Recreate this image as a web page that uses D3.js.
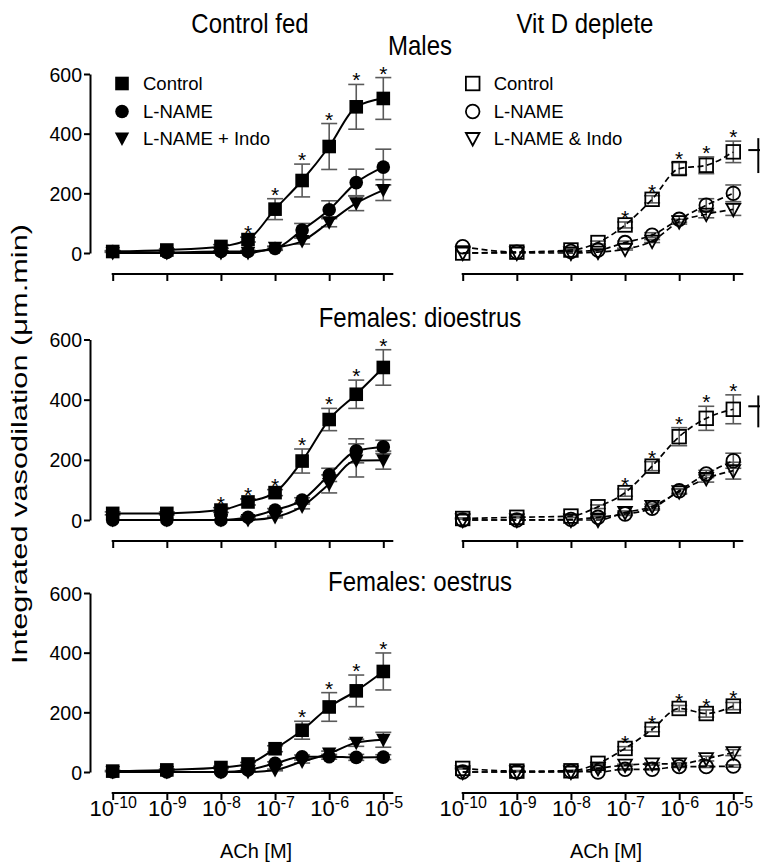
<!DOCTYPE html>
<html>
<head>
<meta charset="utf-8">
<script src="https://cdn.jsdelivr.net/npm/d3@7"></script>
<style>
  body { margin: 0; background: #fff; }
  svg text { font-family: "Liberation Sans", Arial, sans-serif; fill: #000; }
</style>
</head>
<body>
<div id="chart"></div>
<script>
// log10 [ACh] (M)
var logConc = [-10, -9, -8, -7.5, -7, -6.5, -6, -5.5, -5];
var xTicks = [-10, -9, -8, -7, -6, -5];
var yTicks = [0, 200, 400, 600];

var seriesNames = ["Control", "L-NAME", "L-NAME + Indo"];
var seriesNamesVitD = ["Control", "L-NAME", "L-NAME & Indo"];
var rowTitles = ["Males", "Females: dioestrus", "Females: oestrus"];
var colTitles = ["Control fed", "Vit D deplete"];

// Males, control fed
var mCF_ctrl = [5, 10, 22, 45, 147, 243, 357, 490, 518];
var mCF_ctrlErr = [3, 4, 6, 8, 35, 55, 77, 75, 70];
var mCF_lname = [5, 2, 5, 5, 15, 77, 145, 236, 288];
var mCF_lnameErr = [2, 2, 3, 3, 6, 22, 30, 45, 60];
var mCF_indo = [0, 0, 0, 0, 18, 40, 103, 167, 211];
var mCF_indoErr = [0, 0, 0, 0, 5, 10, 15, 25, 35];
var mCF_stars = [3, 4, 5, 6, 7, 8];

// Males, vit D deplete
var mVD_ctrl = [0, 3, 10, 35, 94, 180, 283, 294, 339];
var mVD_ctrlErr = [0, 0, 3, 5, 10, 12, 20, 28, 36];
var mVD_lname = [21, 3, 5, 10, 35, 60, 113, 160, 200];
var mVD_lnameErr = [0, 0, 0, 3, 5, 8, 10, 22, 28];
var mVD_indo = [0, 0, 0, 3, 13, 40, 105, 130, 146];
var mVD_indoErr = [0, 0, 0, 0, 3, 5, 8, 12, 20];
var mVD_stars = [4, 5, 6, 7, 8];

// Females dioestrus, control fed
var dCF_ctrl = [22, 22, 33, 60, 91, 196, 334, 418, 507];
var dCF_ctrlErr = [5, 5, 8, 10, 10, 40, 37, 47, 59];
var dCF_lname = [0, 0, 0, 9, 33, 66, 150, 230, 243];
var dCF_lnameErr = [0, 0, 0, 3, 5, 8, 22, 40, 22];
var dCF_indo = [0, 0, 0, 0, 10, 45, 120, 198, 199];
var dCF_indoErr = [0, 0, 0, 0, 3, 8, 30, 55, 30];
var dCF_stars = [2, 3, 4, 5, 6, 7, 8];

// Females dioestrus, vit D deplete
var dVD_ctrl = [5, 9, 13, 44, 91, 179, 277, 338, 368];
var dVD_ctrlErr = [2, 2, 4, 6, 12, 15, 30, 40, 48];
var dVD_lname = [0, 0, 2, 9, 20, 39, 97, 153, 197];
var dVD_lnameErr = [0, 0, 0, 3, 5, 6, 8, 12, 25];
var dVD_indo = [0, 0, 0, 0, 25, 45, 94, 138, 164];
var dVD_indoErr = [0, 0, 0, 0, 5, 8, 8, 12, 28];
var dVD_stars = [4, 5, 6, 7, 8];

// Females oestrus, control fed
var oCF_ctrl = [3, 7, 15, 27, 78, 140, 218, 272, 337];
var oCF_ctrlErr = [2, 3, 4, 5, 10, 30, 48, 53, 62];
var oCF_lname = [0, 0, 0, 7, 29, 51, 51, 49, 50];
var oCF_lnameErr = [0, 0, 0, 3, 5, 6, 8, 10, 8];
var oCF_indo = [0, 0, 0, 0, 7, 35, 62, 98, 108];
var oCF_indoErr = [0, 0, 0, 0, 3, 5, 8, 12, 25];
var oCF_stars = [5, 6, 7, 8];

// Females oestrus, vit D deplete
var oVD_ctrl = [12, 3, 4, 29, 79, 143, 213, 196, 221];
var oVD_ctrlErr = [2, 2, 2, 4, 6, 8, 10, 12, 12];
var oVD_lname = [0, 0, 2, 0, 9, 9, 18, 18, 20];
var oVD_lnameErr = [0, 0, 0, 0, 2, 2, 3, 3, 4];
var oVD_indo = [0, 0, 0, 12, 23, 27, 27, 45, 65];
var oVD_indoErr = [0, 0, 0, 3, 3, 4, 4, 8, 10];
var oVD_stars = [4, 5, 6, 7, 8];

// vertical significance bars right of the vit D panels [low, high, mid]
var sigBars = [[268, 385, 345], [308, 414, 378], null];

const w = 760;
const h = 865;

var svg = d3.select("#chart").append("svg")
    .attr("width", w)
    .attr("height", h);

var colRanges = [[112.7, 383.3], [462.7, 733.3]];
var rowRanges = [[253, 74], [520, 339.5], [772, 593]];
var shapes = ["square", "circle", "triangle"];

var panels = [
    { row: 0, col: 0, s: [[mCF_ctrl, mCF_ctrlErr], [mCF_lname, mCF_lnameErr], [mCF_indo, mCF_indoErr]], stars: mCF_stars },
    { row: 0, col: 1, s: [[mVD_ctrl, mVD_ctrlErr], [mVD_lname, mVD_lnameErr], [mVD_indo, mVD_indoErr]], stars: mVD_stars },
    { row: 1, col: 0, s: [[dCF_ctrl, dCF_ctrlErr], [dCF_lname, dCF_lnameErr], [dCF_indo, dCF_indoErr]], stars: dCF_stars },
    { row: 1, col: 1, s: [[dVD_ctrl, dVD_ctrlErr], [dVD_lname, dVD_lnameErr], [dVD_indo, dVD_indoErr]], stars: dVD_stars },
    { row: 2, col: 0, s: [[oCF_ctrl, oCF_ctrlErr], [oCF_lname, oCF_lnameErr], [oCF_indo, oCF_indoErr]], stars: oCF_stars },
    { row: 2, col: 1, s: [[oVD_ctrl, oVD_ctrlErr], [oVD_lname, oVD_lnameErr], [oVD_indo, oVD_indoErr]], stars: oVD_stars }
];

function drawMarker(sel, shape, filled) {
    var m;
    if (shape === "square") {
        m = sel.append("rect").attr("x", -6.8).attr("y", -6.8).attr("width", 13.6).attr("height", 13.6);
    } else if (shape === "circle") {
        m = sel.append("circle").attr("r", 6.8);
    } else {
        m = sel.append("path").attr("d", filled ? "M-7.2,-6L7.2,-6L0,7.5Z" : "M-6.8,-5.5L6.8,-5.5L0,7Z");
    }
    if (filled) {
        m.attr("fill", "#000").attr("stroke", "none");
    } else {
        m.attr("fill", "none").attr("stroke", "#000").attr("stroke-width", 1.8);
    }
}

panels.forEach(function (p) {
    var x = d3.scaleLinear().domain([-10, -5]).range(colRanges[p.col]);
    var y = d3.scaleLinear().domain([0, 600]).range(rowRanges[p.row]);
    var filled = p.col === 0;
    var g = svg.append("g");

    // x axis
    var axisY = y(0) + 21;
    var xAxis = d3.axisBottom(x).tickValues(xTicks).tickSize(7).tickSizeOuter(0).tickFormat("");
    var ax = g.append("g")
        .attr("transform", "translate(0," + axisY + ")")
        .call(xAxis);
    ax.select(".domain").remove();
    ax.selectAll(".tick line").attr("stroke", "#000").attr("stroke-width", 2);
    ax.append("line")
        .attr("x1", x(-10) - 1).attr("x2", x(-5) + 10)
        .attr("stroke", "#000").attr("stroke-width", 2);

    if (p.row === 2) {
        var lab = ax.selectAll(".tick").append("text")
            .attr("y", 23)
            .attr("text-anchor", "middle")
            .style("font-size", "22px");
        lab.append("tspan").text("10");
        lab.append("tspan")
            .attr("dy", -8)
            .style("font-size", "16px")
            .text(function (d) { return "-" + Math.abs(d); });
        g.append("text")
            .attr("x", (x(-10) + x(-5)) / 2 + 8)
            .attr("y", 858)
            .attr("text-anchor", "middle")
            .style("font-size", "20px")
            .text("ACh [M]");
    }

    // y axis on left panels
    if (p.col === 0) {
        var yAxis = d3.axisLeft(y).tickValues(yTicks).tickSize(6).tickSizeOuter(0);
        var ay = g.append("g")
            .attr("transform", "translate(90,0)")
            .call(yAxis);
        ay.select(".domain").attr("stroke", "#000").attr("stroke-width", 2);
        ay.selectAll(".tick line").attr("stroke", "#000").attr("stroke-width", 2);
        ay.selectAll(".tick text")
            .attr("x", -8)
            .attr("dy", "0.36em")
            .style("font-size", "19.5px")
            .style("font-family", "'Liberation Sans', Arial, sans-serif");
    }

    var line = d3.line()
        .x(function (d) { return x(d[0]); })
        .y(function (d) { return y(d[1]); })
        .curve(d3.curveMonotoneX);

    // error bars
    p.s.forEach(function (s) {
        var pts = logConc.map(function (c, i) { return [c, s[0][i], s[1][i]]; })
            .filter(function (d) { return d[2] > 0; });
        var eb = g.append("g").attr("stroke", "#5a5a5a").attr("stroke-width", 1.6);
        eb.selectAll("line.v").data(pts).enter().append("line")
            .attr("x1", function (d) { return x(d[0]); })
            .attr("x2", function (d) { return x(d[0]); })
            .attr("y1", function (d) { return y(d[1] + d[2]); })
            .attr("y2", function (d) { return y(d[1] - d[2]); });
        [1, -1].forEach(function (sign) {
            eb.selectAll(null).data(pts).enter().append("line")
                .attr("x1", function (d) { return x(d[0]) - 8; })
                .attr("x2", function (d) { return x(d[0]) + 8; })
                .attr("y1", function (d) { return y(d[1] + sign * d[2]); })
                .attr("y2", function (d) { return y(d[1] + sign * d[2]); });
        });
    });

    // curves
    p.s.forEach(function (s) {
        g.append("path")
            .datum(logConc.map(function (c, i) { return [c, s[0][i]]; }))
            .attr("fill", "none")
            .attr("stroke", "#000")
            .attr("stroke-width", filled ? 2 : 1.7)
            .attr("stroke-dasharray", filled ? null : "6,3.5")
            .attr("d", line);
    });

    // markers
    p.s.forEach(function (s, k) {
        logConc.forEach(function (c, i) {
            var mg = g.append("g").attr("transform", "translate(" + x(c) + "," + y(s[0][i]) + ")");
            drawMarker(mg, shapes[k], filled);
        });
    });

    // significance stars above control
    var ctrl = p.s[0];
    g.selectAll("text.star").data(p.stars).enter().append("text")
        .attr("class", "star")
        .attr("x", function (i) { return x(logConc[i]); })
        .attr("y", function (i) { return y(ctrl[0][i] + ctrl[1][i]) + 3; })
        .attr("text-anchor", "middle")
        .style("font-size", "21px")
        .text("*");

    // significance bar to the right
    if (p.col === 1 && sigBars[p.row]) {
        var sb = sigBars[p.row];
        var bx = x(-5) + 25;
        g.append("line").attr("x1", bx).attr("x2", bx)
            .attr("y1", y(sb[1])).attr("y2", y(sb[0]))
            .attr("stroke", "#000").attr("stroke-width", 2);
        g.append("line").attr("x1", bx - 10).attr("x2", bx + 4)
            .attr("y1", y(sb[2])).attr("y2", y(sb[2]))
            .attr("stroke", "#000").attr("stroke-width", 2);
    }

    // legends in top row
    if (p.row === 0) {
        var names = p.col === 0 ? seriesNames : seriesNamesVitD;
        var lx = p.col === 0 ? 122 : 472.7;
        var ly = [83.5, 111.5, 138.5];
        names.forEach(function (n, k) {
            var lg = g.append("g").attr("transform", "translate(" + lx + "," + ly[k] + ")");
            drawMarker(lg, shapes[k], filled);
            lg.append("text")
                .attr("x", 21)
                .attr("dy", "0.36em")
                .style("font-size", "18.5px")
                .text(n);
        });
    }
});

// titles
svg.selectAll("text.coltitle").data(colTitles).enter().append("text")
    .attr("transform", function (d, i) { return "translate(" + (i === 0 ? 250 : 585) + ",33) scale(1,1.12)"; })
    .attr("text-anchor", "middle")
    .style("font-size", "24px")
    .text(function (d) { return d; });

svg.selectAll("text.rowtitle").data(rowTitles).enter().append("text")
    .attr("transform", function (d, i) { return "translate(420," + [55, 327, 591][i] + ") scale(1,1.12)"; })
    .attr("text-anchor", "middle")
    .style("font-size", "24px")
    .text(function (d) { return d; });

svg.append("text")
    .attr("transform", "translate(27,444) rotate(-90)")
    .attr("text-anchor", "middle")
    .attr("textLength", 440)
    .attr("lengthAdjust", "spacingAndGlyphs")
    .style("font-size", "22px")
    .text("Integrated vasodilation (\u03bcm.min)");
</script>
</body>
</html>
